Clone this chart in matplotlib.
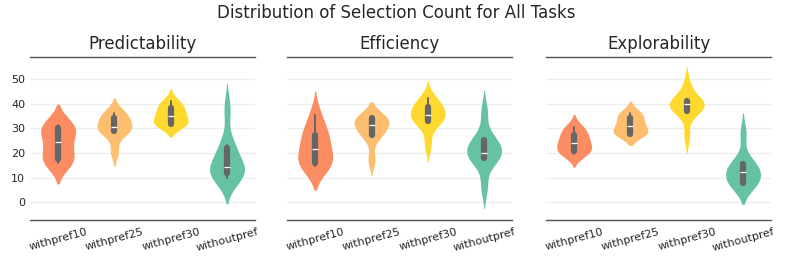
import numpy as np
import pandas as pd
import matplotlib
matplotlib.use("Agg")
import matplotlib.pyplot as plt
import seaborn as sns

# categories / colours
groups = ["withpref10", "withpref25", "withpref30", "withoutpref"]
colors = ["#fc8d62", "#fdbf6f", "#ffd92f", "#66c2a5"]
tasks = ["Predictability", "Efficiency", "Explorability"]

# selection counts per task and group
predictability = {
    "withpref10": [16, 17, 18, 23, 26, 30, 31, 31.3],
    "withpref25": [20.5, 28.5, 29, 30, 31, 34, 35.5, 36.4],
    "withpref30": [31.5, 31.5, 32, 34.5, 35.5, 38, 39, 41.3],
    "withoutpref": [9.8, 11, 11.8, 13, 14.2, 16, 22.2, 23.3, 38],
}
efficiency = {
    "withpref10": [14.8, 15.5, 16, 20, 23.5, 27, 29, 35.4],
    "withpref25": [17.4, 27.4, 27.5, 30.5, 32.3, 34, 34.3, 34.3],
    "withpref30": [23.5, 32.5, 32.9, 34, 35.5, 37, 38.9, 40, 42.3],
    "withoutpref": [6.4, 17.8, 17.8, 19, 20.2, 23, 25.3, 25.3, 36.7],
}
explorability = {
    "withpref10": [19.6, 20.5, 21.2, 23.5, 25, 26.5, 29.2, 30.4],
    "withpref25": [27.8, 27.8, 28, 30, 32, 33.5, 35.9, 36.4],
    "withpref30": [27, 37, 37.1, 39, 40, 40.5, 41.3, 41.3, 48],
    "withoutpref": [7.5, 7.7, 7.7, 10, 12.5, 14, 15.6, 15.6, 28],
}
task_data = [predictability, efficiency, explorability]

# kde bandwidth adjustment per violin
bw_adj = [
    [1.0, 0.9, 1.0, 0.9],
    [1.0, 0.87, 1.0, 0.85],
    [1.0, 1.0, 1.0, 1.0],
]


sns.set_style("white")
plt.rcParams['font.family'] = ['DejaVu Sans']

fig = plt.figure(figsize=(7.93, 2.64), dpi=100)
lefts = [0.0378, 0.362, 0.6885]
axes = []
for left in lefts:
    ax = fig.add_axes([left, 0.1667, 0.284, 0.617], sharey=axes[0] if axes else None)
    axes.append(ax)

for ax, title, d, adj in zip(axes, tasks, task_data, bw_adj):
    for g, c, bwa in zip(groups, colors, adj):
        df = pd.DataFrame({"group": g, "count": d[g]})
        sns.violinplot(data=df, x="group", y="count", order=groups, color=c,
                       saturation=1, inner="box", density_norm="width", width=0.62,
                       bw_adjust=bwa, cut=2,
                       inner_kws=dict(box_width=4.5, whis_width=1.4, color="#666666"),
                       ax=ax)
    for coll in ax.collections:
        coll.set_linewidth(0)
    ax.set_title(title, fontsize=12, pad=6)
    ax.set_xlabel("")
    ax.set_ylabel("")
    ax.set_xlim(-0.5, 3.5)
    ax.set_ylim(-7.2, 59)
    ax.set_yticks([0, 10, 20, 30, 40, 50])
    ax.yaxis.grid(True, color="#ececec", linewidth=0.8)
    ax.set_axisbelow(True)
    for s in ["left", "right"]:
        ax.spines[s].set_visible(False)
    for s in ["top", "bottom"]:
        ax.spines[s].set_color("#555555")
        ax.spines[s].set_linewidth(1.0)
    ax.tick_params(axis="x", length=3, color="#555555", labelsize=8, rotation=15, pad=2)
    ax.tick_params(axis="y", length=0, labelsize=8)
    if ax is not axes[0]:
        ax.tick_params(axis="y", labelleft=False)

fig.suptitle("Distribution of Selection Count for All Tasks", fontsize=12, y=0.985)
fig.savefig("out.png", dpi=100)
